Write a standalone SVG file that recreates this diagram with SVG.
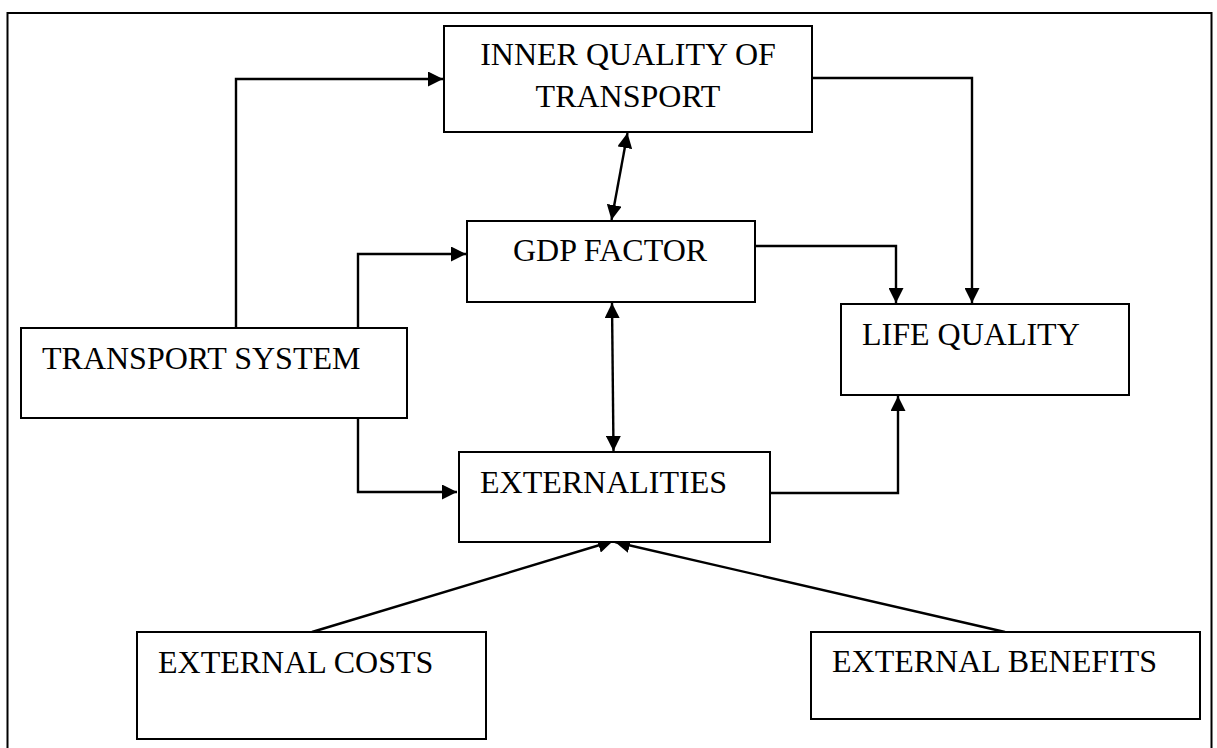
<svg xmlns="http://www.w3.org/2000/svg" width="1217" height="748" viewBox="0 0 1217 748">
<style>
.box{fill:#fff;stroke:#000;stroke-width:2}
.lbl{font-family:"Liberation Serif","Times New Roman",serif;font-size:32px;fill:#000}
.con{fill:none;stroke:#000;stroke-width:2.4}
</style>
<defs>
<marker id="ah" markerUnits="userSpaceOnUse" markerWidth="16" markerHeight="15" refX="15" refY="7.5" orient="auto-start-reverse">
<path d="M0,0 L15,7.5 L0,15 Z" fill="#000"/>
</marker>
</defs>
<rect x="0" y="0" width="1217" height="748" fill="#fff"/>
<rect x="7.5" y="13" width="1204" height="745" fill="none" stroke="#000" stroke-width="2"/>
<g id="connectors">
<polyline class="con" points="236,328 236,79 443,79" marker-end="url(#ah)"/>
<polyline class="con" points="358,328 358,254 466,254" marker-end="url(#ah)"/>
<polyline class="con" points="358,418 358,492 457,492" marker-end="url(#ah)"/>
<line class="con" x1="627.5" y1="133" x2="611.5" y2="220" marker-start="url(#ah)" marker-end="url(#ah)"/>
<line class="con" x1="612" y1="303" x2="613.5" y2="451" marker-start="url(#ah)" marker-end="url(#ah)"/>
<polyline class="con" points="812,78 972,78 972,303" marker-end="url(#ah)"/>
<polyline class="con" points="755,246 896,246 896,303" marker-end="url(#ah)"/>
<polyline class="con" points="770,493 898,493 898,396" marker-end="url(#ah)"/>
<line class="con" x1="312" y1="632" x2="613" y2="541" marker-end="url(#ah)"/>
<line class="con" x1="1005" y1="632" x2="615" y2="542" marker-end="url(#ah)"/>
</g>
<g id="inner-quality">
<rect class="box" x="444" y="26" width="368" height="106"/>
<text class="lbl" x="628" y="65" text-anchor="middle">INNER QUALITY OF</text>
<text class="lbl" x="628" y="107" text-anchor="middle">TRANSPORT</text>
</g>
<g id="gdp-factor">
<rect class="box" x="467" y="221" width="288" height="81"/>
<text class="lbl" x="513" y="261">GDP FACTOR</text>
</g>
<g id="transport-system">
<rect class="box" x="21" y="328" width="386" height="90"/>
<text class="lbl" x="42" y="369">TRANSPORT SYSTEM</text>
</g>
<g id="life-quality">
<rect class="box" x="841" y="304" width="288" height="91"/>
<text class="lbl" x="862" y="345">LIFE QUALITY</text>
</g>
<g id="externalities">
<rect class="box" x="459" y="452" width="311" height="90"/>
<text class="lbl" x="480" y="493">EXTERNALITIES</text>
</g>
<g id="external-costs">
<rect class="box" x="137" y="632" width="349" height="107"/>
<text class="lbl" x="158" y="673">EXTERNAL COSTS</text>
</g>
<g id="external-benefits">
<rect class="box" x="811" y="632" width="389" height="87"/>
<text class="lbl" x="832" y="672">EXTERNAL BENEFITS</text>
</g>
</svg>
